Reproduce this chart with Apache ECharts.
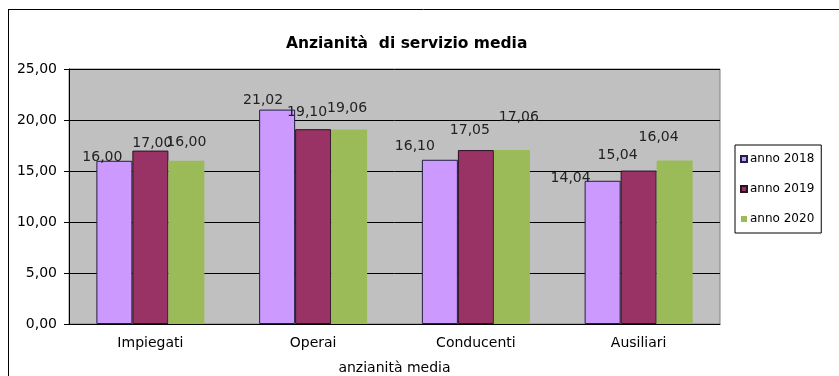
<!DOCTYPE html>
<html>
<head>
<meta charset="utf-8">
<script src="https://cdn.jsdelivr.net/npm/echarts@6/dist/echarts.min.js"></script>
<style>
  html, body { margin: 0; padding: 0; background: #ffffff; }
  #chart { width: 839px; height: 376px; }
</style>
</head>
<body>
<div id="chart"></div>
<script>
// Categories and yearly values (average years of service)
const categories = ['Impiegati', 'Operai', 'Conducenti', 'Ausiliari'];
const anno2018 = [16.00, 21.02, 16.10, 14.04];
const anno2019 = [17.00, 19.10, 17.05, 15.04];
const anno2020 = [16.00, 19.06, 17.06, 16.04];
const yTicks = [0, 5, 10, 15, 20, 25];

// Hand-placed data label nudges [dx, dy] per bar
const shift2018 = [[-12, 4], [-14, -2], [-25, -6], [-32, 5]];
const shift2019 = [[2, 0], [-6, -10], [-6, -13], [-21, -8]];
const shift2020 = [[0, -11], [-2, -14], [7, -26], [-16, -16]];

const FONT = '"DejaVu Sans", Verdana, sans-serif';
const fmt = v => Number(v).toFixed(2).replace('.', ',');

function makeSeries(name, values, shifts, color, border) {
  return {
    name: name,
    type: 'bar',
    barWidth: 36,
    barGap: '0%',
    itemStyle: {
      color: color,
      borderColor: border || color,
      borderWidth: border ? 1 : 0
    },
    label: {
      show: true,
      position: 'top',
      distance: 0,
      fontFamily: FONT,
      fontSize: 14,
      color: '#222222',
      formatter: p => fmt(p.value)
    },
    data: values.map((v, i) => ({ value: v, label: { offset: shifts[i] } }))
  };
}

const chart = echarts.init(document.getElementById('chart'));
chart.setOption({
  animation: false,
  backgroundColor: '#ffffff',
  textStyle: { fontFamily: FONT },
  title: {
    text: 'Anzianità  di servizio media',
    left: 281,
    top: 31,
    textStyle: { fontFamily: FONT, fontSize: 15.5, fontWeight: 'bold', color: '#000000' }
  },
  legend: {
    orient: 'vertical',
    left: 735,
    top: 145,
    padding: [8, 7, 8, 5],
    itemGap: 18,
    itemWidth: 6,
    itemHeight: 6,
    icon: 'rect',
    borderColor: '#000000',
    borderWidth: 1,
    backgroundColor: '#ffffff',
    textStyle: { fontFamily: FONT, fontSize: 12, color: '#000000', padding: [0, 0, 0, -2] },
    data: ['anno 2018', 'anno 2019', 'anno 2020']
  },
  grid: {
    left: 69,
    top: 69,
    right: 119,
    bottom: 52,
    containLabel: false,
    outerBoundsMode: 'none',
    show: true,
    backgroundColor: '#C0C0C0',
    borderColor: '#808080',
    borderWidth: 1
  },
  xAxis: {
    type: 'category',
    data: categories,
    name: 'anzianità media',
    nameLocation: 'middle',
    nameGap: 37,
    nameTextStyle: { fontFamily: FONT, fontSize: 14, color: '#000000' },
    axisLine: { lineStyle: { color: '#000000', width: 1 } },
    axisTick: { show: false },
    axisLabel: { fontFamily: FONT, fontSize: 14, color: '#000000', margin: 12 }
  },
  yAxis: {
    type: 'value',
    min: yTicks[0],
    max: yTicks[yTicks.length - 1],
    interval: 5,
    axisLine: { show: true, lineStyle: { color: '#000000', width: 1 } },
    axisTick: { show: true, length: 5, lineStyle: { color: '#000000' } },
    axisLabel: { fontFamily: FONT, fontSize: 14, color: '#000000', margin: 12, formatter: v => fmt(v) },
    splitLine: { show: true, lineStyle: { color: '#000000', width: 1 } }
  },
  series: [
    makeSeries('anno 2018', anno2018, shift2018, '#CC99FF', '#202040'),
    makeSeries('anno 2019', anno2019, shift2019, '#993366', '#2A1020'),
    makeSeries('anno 2020', anno2020, shift2020, '#9BBB59', null)
  ],
  graphic: [
    { type: 'line', shape: { x1: 8, y1: 9.5, x2: 839, y2: 9.5 }, style: { stroke: '#000000', lineWidth: 1 } },
    { type: 'line', shape: { x1: 8.5, y1: 9, x2: 8.5, y2: 376 }, style: { stroke: '#000000', lineWidth: 1 } }
  ]
});
</script>
</body>
</html>
